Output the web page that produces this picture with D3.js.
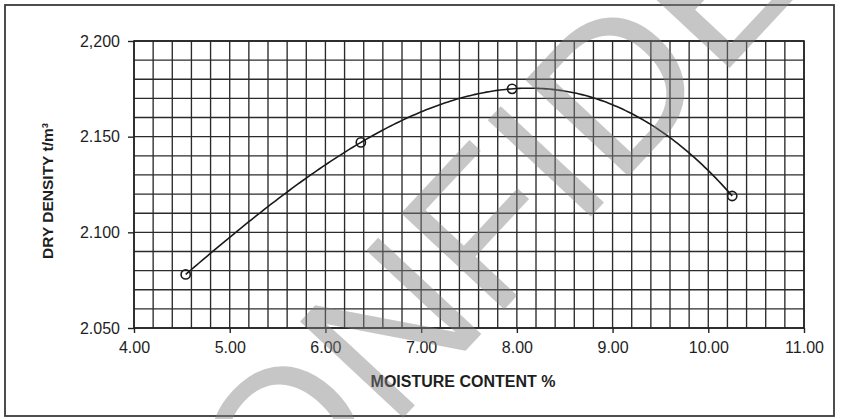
<!DOCTYPE html>
<html>
<head>
<meta charset="utf-8">
<script src="https://cdn.jsdelivr.net/npm/d3@7"></script>
<style>
  html, body { margin: 0; padding: 0; background: #fff; }
  svg { display: block; font-family: 'Liberation Sans', Arial, sans-serif; }
</style>
</head>
<body>
<div id="chart"></div>
<script>
// compaction test readings
const moisture = [4.54, 6.37, 7.95, 10.25]
const density = [2.078, 2.147, 2.175, 2.119]

const xTickValues = [4, 5, 6, 7, 8, 9, 10, 11]
const xTickLabels = ['4.00', '5.00', '6.00', '7.00', '8.00', '9.00', '10.00', '11.00']
const yTickValues = [2.05, 2.1, 2.15, 2.2]
const yTickLabels = ['2.050', '2.100', '2.150', '2,200']

const xTitle = 'MOISTURE CONTENT %'
const yTitle = 'DRY DENSITY t/m³'
const watermark = 'CONFIDENTIAL'

const width = 843
const height = 419
const margin = { top: 41, right: 39, bottom: 91, left: 134 }
const innerW = width - margin.left - margin.right
const innerH = height - margin.top - margin.bottom
const ink = '#1e1e1e'

// least squares polynomial (the sheet draws a 3rd order trendline)
function polyfit(xs, ys, order) {
  const n = order + 1
  const A = d3.range(n).map(() => new Array(n + 1).fill(0))
  xs.forEach((xv, k) => {
    for (let i = 0; i < n; i++) {
      for (let j = 0; j < n; j++) A[i][j] += Math.pow(xv, i + j)
      A[i][n] += ys[k] * Math.pow(xv, i)
    }
  })
  for (let c = 0; c < n; c++) {
    let p = c
    for (let r = c + 1; r < n; r++) if (Math.abs(A[r][c]) > Math.abs(A[p][c])) p = r
    ;[A[c], A[p]] = [A[p], A[c]]
    for (let r = 0; r < n; r++) {
      if (r === c) continue
      const f = A[r][c] / A[c][c]
      for (let j = c; j <= n; j++) A[r][j] -= f * A[c][j]
    }
  }
  const coef = A.map((row, i) => row[n] / row[i])
  return (xv) => coef.reduce((s, cf, i) => s + cf * Math.pow(xv, i), 0)
}

const svg = d3.select('#chart').append('svg').attr('width', width).attr('height', height)

// outer frame
svg.append('rect')
  .attr('x', 5).attr('y', 5)
  .attr('width', 829).attr('height', 411)
  .attr('fill', 'none').attr('stroke', '#3a3a3a').attr('stroke-width', 1.8)

const g = svg.append('g').attr('transform', `translate(${margin.left},${margin.top})`)

const x = d3.scaleLinear().domain([4, 11]).range([0, innerW])
const y = d3.scaleLinear().domain([2.05, 2.2]).range([innerH, 0])

// graph paper grid
const gridG = g.append('g').attr('stroke', '#2b2b2b').attr('stroke-width', 1.35)
gridG.selectAll('line.v').data(x.ticks(35)).join('line')
  .attr('class', 'v')
  .attr('x1', (d) => x(d)).attr('x2', (d) => x(d))
  .attr('y1', 0).attr('y2', innerH)
gridG.selectAll('line.h').data(y.ticks(15)).join('line')
  .attr('class', 'h')
  .attr('x1', 0).attr('x2', innerW)
  .attr('y1', (d) => y(d)).attr('y2', (d) => y(d))
g.append('rect')
  .attr('width', innerW).attr('height', innerH)
  .attr('fill', 'none').attr('stroke', '#222').attr('stroke-width', 1.6)

// axes
const xAxisG = g.append('g')
  .attr('transform', `translate(0,${innerH})`)
  .call(d3.axisBottom(x).tickValues(xTickValues).tickSize(5).tickPadding(8.5)
    .tickFormat((d, i) => xTickLabels[i]))
const yAxisG = g.append('g')
  .call(d3.axisLeft(y).tickValues(yTickValues).tickSize(6).tickPadding(8)
    .tickFormat((d, i) => yTickLabels[i]))

for (const ax of [xAxisG, yAxisG]) {
  ax.select('.domain').remove()
  ax.selectAll('.tick line').attr('stroke', '#222').attr('stroke-width', 1.4)
  ax.selectAll('.tick text')
    .attr('fill', ink)
    .style('font-size', '16px')
    .style('font-family', "'Liberation Sans', Arial, sans-serif")
}

// titles
svg.append('text')
  .attr('x', 463).attr('y', 387)
  .attr('text-anchor', 'middle')
  .attr('fill', ink)
  .style('font-size', '16px').style('font-weight', 'bold')
  .text(xTitle)

svg.append('text')
  .attr('transform', 'translate(53,191) rotate(-90)')
  .attr('text-anchor', 'middle')
  .attr('fill', ink)
  .style('font-size', '15.5px').style('font-weight', 'bold')
  .text(yTitle)

// trendline + readings
const fit = polyfit(moisture, density, 3)
const xs = d3.range(0, 201).map((i) => d3.min(moisture) + (i / 200) * (d3.max(moisture) - d3.min(moisture)))
const line = d3.line()
  .x((d) => x(d))
  .y((d) => y(fit(d)))

g.append('path')
  .datum(xs)
  .attr('d', line)
  .attr('fill', 'none')
  .attr('stroke', '#1a1a1a')
  .attr('stroke-width', 1.6)

const pts = moisture.map((m, i) => [m, density[i]])
g.selectAll('circle.pt').data(pts).join('circle')
  .attr('class', 'pt')
  .attr('cx', (d) => x(d[0])).attr('cy', (d) => y(d[1]))
  .attr('r', 4.6)
  .attr('fill', 'none')
  .attr('stroke', '#1a1a1a')
  .attr('stroke-width', 1.6)

// stamp across the sheet
svg.append('text')
  .attr('transform', 'translate(182,655) rotate(-47)')
  .attr('fill', '#808080')
  .attr('fill-opacity', 0.45)
  .style('font-size', '205px')
  .style('font-family', "'Liberation Sans', Arial, sans-serif")
  .text(watermark)
</script>
</body>
</html>
